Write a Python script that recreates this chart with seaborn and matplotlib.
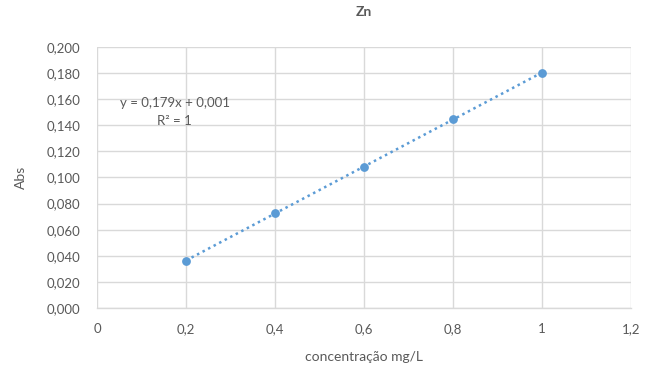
import numpy as np
import pandas as pd
import matplotlib
matplotlib.use("Agg")
import matplotlib.pyplot as plt
from matplotlib.ticker import FuncFormatter, MultipleLocator
import seaborn as sns

# data
concentracao = [0.2, 0.4, 0.6, 0.8, 1.0]
absorbancia = [0.036, 0.073, 0.108, 0.145, 0.180]
title = "Zn"
xlabel = "concentração mg/L"
ylabel = "Abs"
equation_text = "y = 0,179x + 0,001\nR² = 1"

df = pd.DataFrame({"x": concentracao, "y": absorbancia})

sns.set_theme(style="white")
plt.rcParams['font.family'] = ['Lato', 'DejaVu Sans']

gray = "#595959"
blue = "#5B9BD5"

fig = plt.figure(figsize=(6.57, 3.72), dpi=100)
ax = fig.add_axes([0.1476, 0.172, 0.8128, 0.7017])

sns.regplot(data=df, x="x", y="y", ax=ax, ci=None, scatter=False, truncate=True,
            line_kws=dict(color=blue, linestyle=(0, (1, 1.5)), linewidth=1.8))
sns.scatterplot(data=df, x="x", y="y", ax=ax, color=blue, s=40, edgecolor=blue,
                linewidth=0, zorder=5)

ax.set_xlim(0, 1.2)
ax.set_ylim(0, 0.2)
ax.xaxis.set_major_locator(MultipleLocator(0.2))
ax.yaxis.set_major_locator(MultipleLocator(0.02))
ax.xaxis.set_major_formatter(FuncFormatter(lambda v, p: f"{round(v, 1):g}".replace(".", ",")))
ax.yaxis.set_major_formatter(FuncFormatter(lambda v, p: f"{v:.3f}".replace(".", ",")))

ax.grid(True, color="#d9d9d9", linewidth=1)
ax.set_axisbelow(True)
for s in ["top", "right", "left"]:
    ax.spines[s].set_visible(False)
ax.spines["bottom"].set_color("#d9d9d9")
ax.spines["bottom"].set_linewidth(1)

ax.tick_params(axis="both", length=0, labelsize=9.5, colors=gray)
ax.tick_params(axis="y", pad=12)
ax.tick_params(axis="x", pad=11)

ax.set_xlabel(xlabel, fontsize=10, color=gray, labelpad=11)
ax.set_ylabel(ylabel, fontsize=10, color=gray, labelpad=14)
ax.set_title(title, fontsize=10, fontweight="bold", color=gray, pad=22)

ax.text(0.175, 0.150, equation_text, ha="center", va="center", fontsize=9.5,
        color=gray, linespacing=1.6)

fig.savefig("out.png", dpi=100)
